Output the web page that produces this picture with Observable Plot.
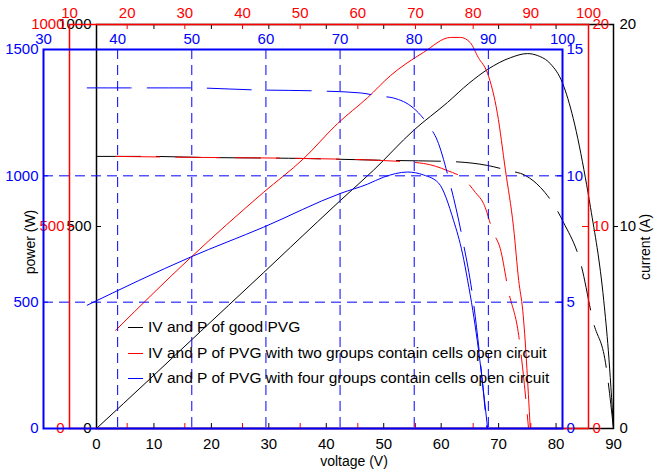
<!DOCTYPE html>
<html><head><meta charset="utf-8">
<script src="https://cdn.jsdelivr.net/npm/d3@7"></script>
<script src="https://cdn.jsdelivr.net/npm/@observablehq/plot@0.6"></script>
<style>
body{margin:0;background:#fff;}
#wrap{position:relative;width:654px;height:470px;overflow:hidden;font-family:"Liberation Sans",Arial,sans-serif;}
#wrap svg{position:absolute;left:0;top:0;}
.t{position:absolute;font-size:14px;color:#000;white-space:nowrap;line-height:1;}
.leg{position:absolute;font-size:15.5px;color:#000;white-space:nowrap;line-height:18px;}
.sw{position:absolute;height:0;width:15px;border-top:1px solid;}
</style></head><body><div id="wrap"></div>
<script>
// ---- data ----
// good PVG (black axes: voltage 0-90, power 0-1000, current 0-20)
const blackV = [0, 9.4, 18.1, 23.0, 29.1, 38.5, 42.5, 48.2, 55.2, 61.1, 64.8, 68.1, 72.1, 75.0, 76.8, 79.0, 81.1, 83.0, 85.1, 86.0, 88.3, 89.1, 90.0];
const blackP = [0, 124, 240, 305, 386, 512, 565, 639, 738, 807, 854, 889, 918, 928, 923, 903, 856, 767, 621, 547, 317, 193, 0];
const blackIV = [0, 9.4, 18.1, 35.5, 51.2, 61.3, 68.1, 71.7, 74.7, 77.3, 79.9, 81.3, 84.3, 86.5, 88.6, 90.0];
const blackI = [13.47, 13.47, 13.42, 13.37, 13.27, 13.22, 13.02, 12.77, 12.52, 11.93, 10.94, 10.20, 8.17, 5.25, 3.27, 0];
// two groups open circuit (red axes: voltage 10-100, power 0-1000, current 0-20)
const redV = [18.0, 31.0, 43.6, 50.6, 56.5, 61.7, 65.7, 71.4, 76.1, 77.8, 79.5, 80.9, 82.5, 84.2, 85.6, 87.0, 87.9, 88.6, 89.9];
const redP = [243, 423, 584, 668, 755, 819, 874, 931, 968, 968, 955, 918, 879, 780, 639, 498, 366, 292, 0];
const redIV = [18.0, 32.7, 50.1, 63.9, 71.4, 75.5, 78.3, 80.4, 81.8, 83.5, 84.7, 86.1, 87.9, 88.8, 89.6];
const redI = [13.47, 13.42, 13.37, 13.27, 13.12, 12.77, 12.38, 11.68, 11.14, 9.70, 8.91, 6.83, 4.6, 2.4, 0];
// four groups open circuit (blue axes: voltage 30-100, power 0-1500, current 0-15)
const blueV = [35.9, 49.8, 59.7, 70.1, 73.7, 75.9, 79.1, 81.3, 83.3, 85.3, 86.5, 87.2, 87.9, 88.5, 89.9];
const blueP = [488, 678, 797, 931, 967, 995, 1015, 1003, 971, 824, 694, 587, 468, 349, 0];
const blueIV = [35.9, 41.7, 49.8, 58.6, 67.0, 72.8, 75.2, 77.2, 79.9, 81.9, 83.1, 84.6, 86.6, 87.9, 88.9, 89.8];
const blueI = [13.48, 13.48, 13.48, 13.40, 13.36, 13.28, 13.16, 13.08, 12.68, 12.01, 11.41, 9.95, 7.37, 5.19, 2.70, 0];

// tick labels
const blackXTicks = [0, 10, 20, 30, 40, 50, 60, 70, 80, 90];
const blackPTicks = [0, 500, 1000];
const blackITicks = [0, 10, 20];
const redXTicks = [10, 20, 30, 40, 50, 60, 70, 80, 90, 100];
const redPTicks = [0, 500, 1000];
const redITicks = [0, 10, 20];
const blueXTicks = [30, 40, 50, 60, 70, 80, 90, 100];
const bluePTicks = [0, 500, 1000, 1500];
const blueITicks = [0, 5, 10, 15];

const legendLabels = ["IV and P of good PVG",
  "IV and P of PVG with two groups contain cells open circuit",
  "IV and P of PVG with four groups contain cells open circuit"];
const seriesColors = ["black", "red", "blue"];

// ---- drawing ----
const W = 654, H = 470;
const wrap = document.getElementById("wrap");
const FONT = "Liberation Sans, Arial, sans-serif";
const fmt = d => String(d);
const rows = (xs, ys) => xs.map((x, i) => ({x, y: ys[i]}));
function add(opts) {
  const svg = Plot.plot({width: W, height: H, ...opts,
    style: {background: "transparent", fontFamily: FONT, fontSize: "15px", overflow: "visible"}});
  svg.style.position = "absolute"; svg.style.left = "0px"; svg.style.top = "0px";
  wrap.appendChild(svg);
}
const dash = "44,16";
const FS = 15;

// black system
{
  const m = {marginLeft: 96, marginRight: 41, marginTop: 24, marginBottom: 42};
  const iw = W - 96 - 41, ih = H - 24 - 42;
  add({...m, x: {domain: [0, 90], axis: null}, y: {domain: [0, 1000], axis: null},
    marks: [
      Plot.frame({stroke: "black", strokeWidth: 1.5}),
      Plot.tickX(blackXTicks, {x: d => d, stroke: "black", insetTop: ih - 5}),
      Plot.tickX(blackXTicks, {x: d => d, stroke: "black", insetBottom: ih - 5}),
      Plot.tickY(blackPTicks, {y: d => d, stroke: "black", insetRight: iw - 5}),
      Plot.axisX({ticks: blackXTicks, anchor: "bottom", tickSize: 0, tickPadding: 10, tickFormat: fmt, label: null, color: "black", fontSize: FS}),
      Plot.axisY({ticks: blackPTicks, anchor: "left", tickSize: 0, tickPadding: 5, tickFormat: fmt, label: null, color: "black", fontSize: FS}),
      Plot.line(rows(blackV, blackP), {x: "x", y: "y", stroke: "black", strokeWidth: 1, curve: "monotone-x"})
    ]});
  add({...m, x: {domain: [0, 90], axis: null}, y: {domain: [0, 20], axis: null},
    marks: [
      Plot.tickY([10], {y: d => d, stroke: "black", insetLeft: iw, insetRight: -5}),
      Plot.axisY({ticks: blackITicks, anchor: "right", tickSize: 0, tickPadding: 6, tickFormat: fmt, label: null, color: "black", fontSize: FS}),
      Plot.line(rows(blackIV, blackI), {x: "x", y: "y", stroke: "black", strokeWidth: 1, strokeDasharray: dash, curve: "monotone-x"})
    ]});
}
// red system
{
  const m = {marginLeft: 69, marginRight: 66, marginTop: 24, marginBottom: 42};
  const iw = W - 69 - 66, ih = H - 24 - 42;
  const inner = redXTicks.slice(1, -1);
  add({...m, x: {domain: [10, 100], axis: null}, y: {domain: [0, 1000], axis: null},
    marks: [
      Plot.frame({stroke: "red", strokeWidth: 1.5}),
      Plot.tickX(inner, {x: d => d, stroke: "red", insetTop: ih - 5}),
      Plot.tickX(inner, {x: d => d, stroke: "red", insetBottom: ih - 5}),
      Plot.tickY([500], {y: d => d, stroke: "red", insetRight: iw - 5}),
      Plot.axisX({ticks: redXTicks, anchor: "top", tickSize: 0, tickPadding: 7, tickFormat: fmt, label: null, color: "red", fontSize: FS}),
      Plot.axisY({ticks: redPTicks, anchor: "left", tickSize: 0, tickPadding: 5, tickFormat: fmt, label: null, color: "red", fontSize: FS}),
      Plot.line(rows(redV, redP), {x: "x", y: "y", stroke: "red", strokeWidth: 1, curve: "monotone-x"})
    ]});
  add({...m, x: {domain: [10, 100], axis: null}, y: {domain: [0, 20], axis: null},
    marks: [
      Plot.tickY([10], {y: d => d, stroke: "red", insetLeft: iw - 6}),
      Plot.axisY({ticks: redITicks, anchor: "right", tickSize: 0, tickPadding: 4, tickFormat: fmt, label: null, color: "red", fontSize: FS}),
      Plot.line(rows(redIV, redI), {x: "x", y: "y", stroke: "red", strokeWidth: 1, strokeDasharray: dash, curve: "monotone-x"})
    ]});
}
// blue system
{
  const m = {marginLeft: 43, marginRight: 92, marginTop: 49, marginBottom: 42};
  const iw = W - 43 - 92, ih = H - 49 - 42;
  const inner = blueXTicks.slice(1, -1);
  add({...m, x: {domain: [30, 100], axis: null}, y: {domain: [0, 1500], axis: null},
    marks: [
      Plot.ruleX(inner, {x: d => d, stroke: "blue", strokeDasharray: "10,6", strokeWidth: 1}),
      Plot.ruleY([500, 1000], {y: d => d, stroke: "blue", strokeDasharray: "10,6", strokeWidth: 1}),
      Plot.frame({stroke: "blue", strokeWidth: 2}),
      Plot.tickY([500, 1000], {y: d => d, stroke: "blue", insetRight: iw - 5}),
      Plot.axisX({ticks: blueXTicks, anchor: "top", tickSize: 0, tickPadding: 6, tickFormat: fmt, label: null, color: "blue", fontSize: FS}),
      Plot.axisY({ticks: bluePTicks, anchor: "left", tickSize: 0, tickPadding: 5, tickFormat: fmt, label: null, color: "blue", fontSize: FS}),
      Plot.line(rows(blueV, blueP), {x: "x", y: "y", stroke: "blue", strokeWidth: 1, curve: "monotone-x"})
    ]});
  add({...m, x: {domain: [30, 100], axis: null}, y: {domain: [0, 15], axis: null},
    marks: [
      Plot.tickY([5, 10], {y: d => d, stroke: "blue", insetLeft: iw - 5}),
      Plot.axisY({ticks: blueITicks, anchor: "right", tickSize: 0, tickPadding: 4, tickFormat: fmt, label: null, color: "blue", fontSize: FS}),
      Plot.line(rows(blueIV, blueI), {x: "x", y: "y", stroke: "blue", strokeWidth: 1, strokeDasharray: dash, curve: "monotone-x"})
    ]});
}

// axis titles
function label(text, x, y, rot) {
  const d = document.createElement("div");
  d.className = "t"; d.textContent = text;
  d.style.left = x + "px"; d.style.top = y + "px";
  d.style.transform = `translate(-50%,-50%)` + (rot ? ` rotate(${rot}deg)` : "");
  wrap.appendChild(d);
}
label("voltage (V)", 354, 461, 0);
label("power (W)", 30, 242, -90);
label("current (A)", 645, 247, -90);

// legend
const legY = [327, 353, 378];
legendLabels.forEach((t, i) => {
  const s = document.createElement("div");
  s.className = "sw"; s.style.left = "128px"; s.style.top = legY[i] + "px"; s.style.borderColor = seriesColors[i];
  wrap.appendChild(s);
  const d = document.createElement("div");
  d.className = "leg"; d.textContent = t; d.style.left = "148px"; d.style.top = (legY[i] - 9) + "px";
  wrap.appendChild(d);
});
</script></body></html>
